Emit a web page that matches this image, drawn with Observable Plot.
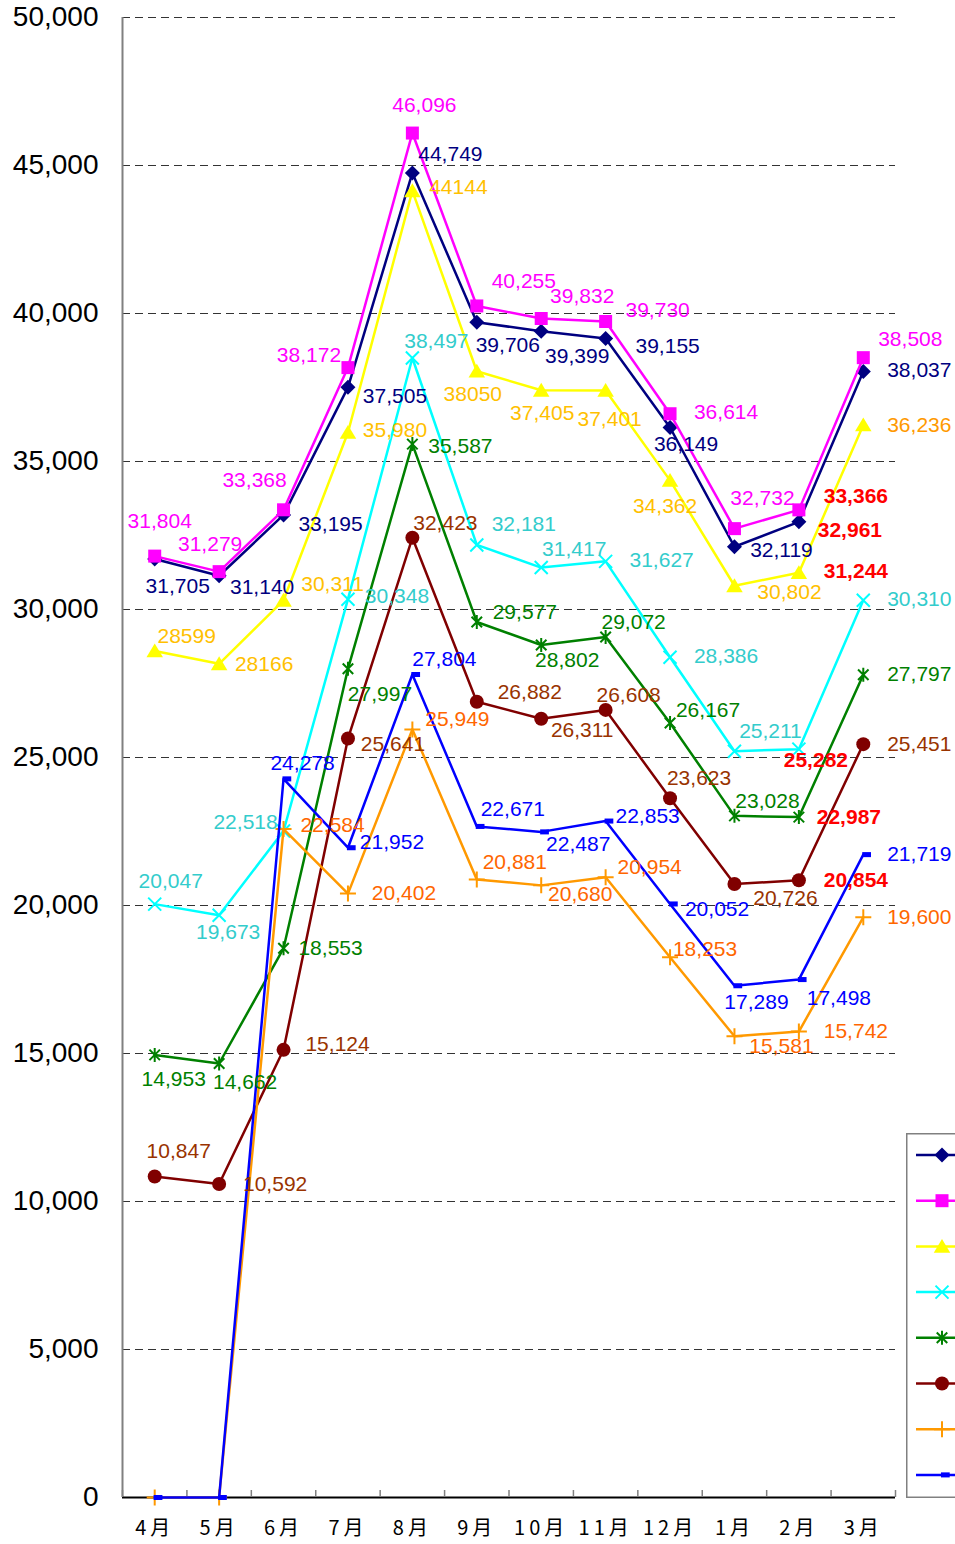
<!DOCTYPE html>
<html>
<head>
<meta charset="utf-8">
<script src="https://cdn.jsdelivr.net/npm/d3@7"></script>
<script src="https://cdn.jsdelivr.net/npm/@observablehq/plot@0.6"></script>
<style>
  html, body { margin: 0; padding: 0; background: #fff; overflow: hidden; }
  #wrap { position: relative; width: 955px; height: 1544px; }
  #legend { position: absolute; left: 906px; top: 1133px; }
  .xlab text { letter-spacing: 4px; }
</style>
</head>
<body>
<div id="wrap"></div>
<script>
// ---------- data ----------
const months = ["4月","5月","6月","7月","8月","9月","10月","11月","12月","1月","2月","3月"];
const yTicks = [0,5000,10000,15000,20000,25000,30000,35000,40000,45000,50000];

const seriesNavy    = [31705,31140,33195,37505,44749,39706,39399,39155,36149,32119,32961,38037];
const seriesMagenta = [31804,31279,33368,38172,46096,40255,39832,39730,36614,32732,33366,38508];
const seriesYellow  = [28599,28166,30311,35980,44144,38050,37405,37401,34362,30802,31244,36236];
const seriesCyan    = [20047,19673,22518,30348,38497,32181,31417,31627,28386,25211,25282,30310];
const seriesGreen   = [14953,14662,18553,27997,35587,29577,28802,29072,26167,23028,22987,27797];
const seriesDarkRed = [10847,10592,15124,25641,32423,26882,26311,26608,23623,20726,20854,25451];
const seriesOrange  = [0,0,22584,20402,25949,20881,20680,20954,18253,15581,15742,19600];
const seriesBlue    = [0,0,24278,21952,27804,22671,22487,22853,20052,17289,17498,21719];

// labels shown without thousands separator (yellow series)
const plainLabelIdx = [0,1,4,5];
// month whose labels are highlighted (red bold) for the first six series
const highlightMonth = "2月";
const highlightSeries = [0,1,2,3,4,5];

// ---------- styles ----------
const sym = {
  diamond: {draw(c,s){const r=Math.sqrt(s/Math.PI); c.moveTo(0,-r); c.lineTo(r,0); c.lineTo(0,r); c.lineTo(-r,0); c.closePath();}},
  square: {draw(c,s){const r=Math.sqrt(s/Math.PI); c.rect(-r,-r,2*r,2*r);}},
  triangle: {draw(c,s){const r=Math.sqrt(s/Math.PI); c.moveTo(0,-r); c.lineTo(r*1.1,r*0.85); c.lineTo(-r*1.1,r*0.85); c.closePath();}},
  times: {draw(c,s){const r=Math.sqrt(s/Math.PI); c.moveTo(-r,-r); c.lineTo(r,r); c.moveTo(r,-r); c.lineTo(-r,r);}},
  asterisk: {draw(c,s){const r=Math.sqrt(s/Math.PI); const q=r*0.75; c.moveTo(0,-r); c.lineTo(0,r); c.moveTo(-q,-q); c.lineTo(q,q); c.moveTo(q,-q); c.lineTo(-q,q);}},
  circle: d3.symbolCircle,
  plus: {draw(c,s){const r=Math.sqrt(s/Math.PI); c.moveTo(-r,0); c.lineTo(r,0); c.moveTo(0,-r); c.lineTo(0,r);}},
  dash: {draw(c,s){const r=Math.sqrt(s/Math.PI); c.rect(-r*0.15,-r*0.36,r*1.25,r*0.72);}}
};

const series = [
  {values: seriesNavy,    color:"#000080", label:"#000080", symbol:sym.diamond,  r:7.5, filled:true},
  {values: seriesMagenta, color:"#FF00FF", label:"#FF00FF", symbol:sym.square,   r:6.5, filled:true},
  {values: seriesYellow,  color:"#FFFF00", label:"#FFC000", symbol:sym.triangle, r:7.5, filled:true},
  {values: seriesCyan,    color:"#00FFFF", label:"#33CCCC", symbol:sym.times,    r:6.5, filled:false},
  {values: seriesGreen,   color:"#008000", label:"#008000", symbol:sym.asterisk, r:7,   filled:false},
  {values: seriesDarkRed, color:"#800000", label:"#993300", symbol:sym.circle,   r:7,   filled:true},
  {values: seriesOrange,  color:"#FF9900", label:"#FF6600", symbol:sym.plus,     r:8,   filled:false},
  {values: seriesBlue,    color:"#0000FF", label:"#0000FF", symbol:sym.dash,     r:7,   filled:true}
];
const labelColorOverride = {"2-11": "#FF9900"};

// label offsets in pixels [dx, dy] (null = no label)
const labelOffsets = [
  [[23,27],[43,12],[47,9],[47,9],[38,-19],[31,23],[36,25],[62,8],[16,17],[47,3],[51,8],[56,-1]],
  [[5,-35],[-9,-27],[-29,-30],[-39,-12],[12,-28],[47,-25],[41,-22],[52,-11],[56,-1],[28,-30],[57,-14],[47,-18]],
  [[32,-15],[45,0],[49,-16],[47,-2],[46,-4],[-4,23],[1,23],[4,29],[-5,26],[55,7],[57,-1],[56,0]],
  [[16,-23],[9,17],[-38,-9],[49,-3],[24,-17],[47,-21],[33,-18],[56,-1],[56,-1],[36,-20],[17,11],[56,-1]],
  [[19,24],[26,19],[47,0],[32,25],[48,2],[48,-10],[26,15],[28,-15],[38,-13],[33,-15],[50,0],[56,0]],
  [[24,-25],[56,0],[54,-6],[45,6],[33,-15],[53,-10],[41,12],[23,-15],[29,-20],[51,14],[57,0],[56,0]],
  [null,null,[49,-4],[56,0],[45,-10],[38,-17],[39,9],[44,-10],[35,-8],[47,10],[57,0],[56,0]],
  [null,null,[19,-16],[44,-5],[32,-15],[36,-17],[37,12],[42,-5],[47,5],[22,17],[40,19],[56,0]]
];

const fmt = d3.format(",");
const textFont = "'Liberation Sans', Arial, sans-serif";

const marks = [];
// gridlines
marks.push(Plot.ruleY(yTicks.filter(d => d > 0), {stroke:"#333", strokeDasharray:"8,5", strokeWidth:1}));
// axis lines
marks.push(Plot.ruleX([-0.5], {stroke:"#808080", strokeWidth:2}));
marks.push(Plot.ruleY([0], {stroke:"#000", strokeWidth:2}));
// x tick marks at category boundaries
marks.push(Plot.tickX(d3.range(13).map(i => i - 0.5), {x: d => d, stroke:"#808080", strokeWidth:1.5, insetTop: 1473}));
// axes
marks.push(Plot.axisY({ticks: yTicks, tickFormat: fmt, tickSize:0, tickPadding:24, fontSize:28, fill:"#000", fontFamily:textFont, label:null}));
marks.push(Plot.axisX({ticks: d3.range(12), tickFormat: i => months[i], tickSize:0, tickPadding:23, fontSize:20, fill:"#000", fontFamily:"'Noto Sans CJK JP', sans-serif", className:"xlab", label:null}));

// lines + markers
series.forEach(s => {
  const data = s.values.map((v,i) => ({i, v}));
  marks.push(Plot.line(data, {x:"i", y:"v", stroke:s.color, strokeWidth:2.5}));
  marks.push(Plot.dot(data, {x:"i", y:"v", symbol:s.symbol, r:s.r,
    fill: s.filled ? s.color : "none", stroke: s.filled ? "none" : s.color, strokeWidth: 2}));
});

// labels
const hiIdx = months.indexOf(highlightMonth);
series.forEach((s, si) => {
  s.values.forEach((v, i) => {
    const off = labelOffsets[si][i];
    if (!off) return;
    const hi = highlightSeries.includes(si) && i === hiIdx;
    const txt = (si === 2 && plainLabelIdx.includes(i)) ? String(v) : fmt(v);
    const col = hi ? "#FF0000" : (labelColorOverride[si + "-" + i] || s.label);
    marks.push(Plot.text([{i, v, txt}], {x:"i", y:"v", text:"txt", dx:off[0], dy:off[1],
      fill: col, fontSize:21, fontWeight: hi ? "bold" : "normal", fontFamily:textFont, textAnchor:"middle"}));
  });
});

const chart = Plot.plot({
  width: 955, height: 1544,
  marginLeft: 122, marginRight: 60, marginTop: 17, marginBottom: 47,
  x: {type:"linear", domain:[-0.5, 11.5], axis:null},
  y: {domain:[0, 50000], axis:null},
  style: {background:"#fff", fontFamily:textFont, overflow:"visible"},
  marks
});
const wrap = document.getElementById("wrap");
wrap.appendChild(chart);

// legend (partially cut off at the right edge, as in the reference)
const lg = d3.select(wrap).append("svg").attr("id","legend").attr("width", 60).attr("height", 366);
lg.append("rect").attr("x",0.75).attr("y",0.75).attr("width",80).attr("height",363.5)
  .attr("fill","#fff").attr("stroke","#808080").attr("stroke-width",1.5);
series.forEach((s, k) => {
  const yy = 22 + k * 45.7;
  lg.append("line").attr("x1",10).attr("x2",70).attr("y1",yy).attr("y2",yy)
    .attr("stroke", s.color).attr("stroke-width",2.5);
  lg.append("path").attr("transform", `translate(36,${yy})`)
    .attr("d", d3.symbol(s.symbol, Math.PI * s.r * s.r)())
    .attr("fill", s.filled ? s.color : "none")
    .attr("stroke", s.filled ? "none" : s.color).attr("stroke-width", 2);
});
</script>
</body>
</html>
